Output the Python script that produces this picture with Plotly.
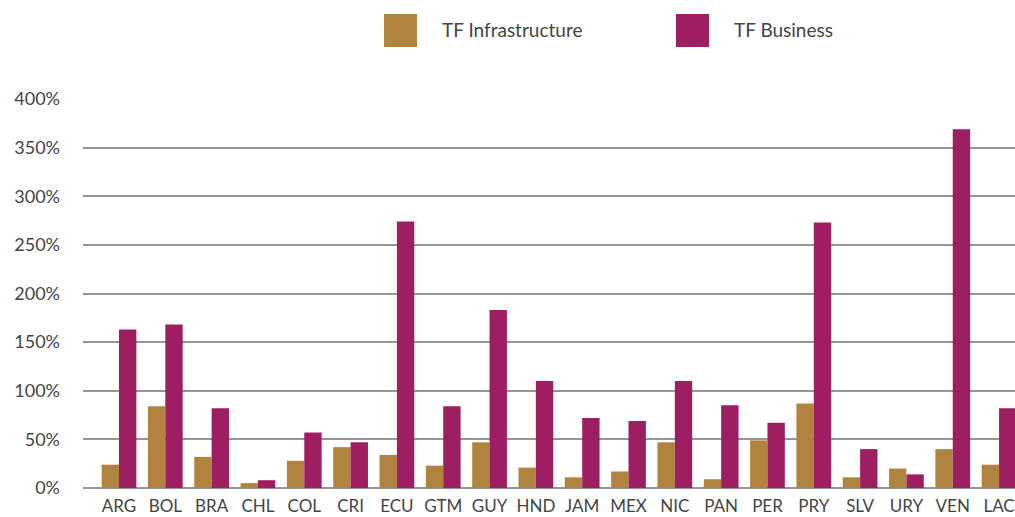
import plotly.graph_objects as go

# Country codes and the two ratios (in percent)
countries = ["ARG", "BOL", "BRA", "CHL", "COL", "CRI", "ECU", "GTM", "GUY", "HND",
             "JAM", "MEX", "NIC", "PAN", "PER", "PRY", "SLV", "URY", "VEN", "LAC"]
tf_infrastructure = [24, 84, 32, 5, 28, 42, 34, 23, 47, 21,
                     11, 17, 47, 9, 49, 87, 11, 20, 40, 24]
tf_business = [163, 168, 82, 8, 57, 47, 274, 84, 183, 110,
               72, 69, 110, 85, 67, 273, 40, 14, 369, 82]
y_ticks = [0, 50, 100, 150, 200, 250, 300, 350, 400]
y_tick_labels = ["0%", "50%", "100%", "150%", "200%", "250%", "300%", "350%", "400%"]

series_names = ["TF Infrastructure", "TF Business"]
series_colors = ["#B0843F", "#9D1F62"]

FONT = "Lato"
TEXT = "#444444"

fig = go.Figure()
for name, vals, col in zip(series_names, [tf_infrastructure, tf_business], series_colors):
    fig.add_trace(go.Bar(x=countries, y=vals, name=name, marker_color=col,
                         marker_line_width=0, showlegend=False))

W, H = 1015, 517
ml, mr, mt, mb = 83, 0, 99, 29

fig.update_layout(
    width=W, height=H,
    margin=dict(l=ml, r=mr, t=mt, b=mb, autoexpand=False),
    paper_bgcolor="white", plot_bgcolor="white",
    barmode="group", bargap=0.25, bargroupgap=0,
    font=dict(family=FONT, color=TEXT, size=18),
    xaxis=dict(range=[-0.777, 19.344], showgrid=False, showline=False,
               zeroline=False, tickfont=dict(size=17, color=TEXT),
               ticks="", ticklabelstandoff=6, automargin=False),
    yaxis=dict(range=[0, 400], tickmode="array", tickvals=y_ticks, ticktext=y_tick_labels,
               showgrid=True, gridcolor="#959595", gridwidth=1.6,
               zeroline=True, zerolinecolor="#959595", zerolinewidth=1.6,
               showline=False, ticks="", ticklabelstandoff=22, automargin=False,
               tickfont=dict(size=18, color=TEXT)),
)

# Legend drawn as large swatches with labels above the plot
legend_items = [(384, 440), (676, 732)]
for (sx, tx), name, col in zip(legend_items, series_names, series_colors):
    fig.add_shape(type="rect", xref="paper", yref="paper",
                  x0=(sx - ml) / (W - ml - mr), x1=(sx + 33 - ml) / (W - ml - mr),
                  y0=(H - mb - 47) / (H - mt - mb), y1=(H - mb - 14) / (H - mt - mb),
                  fillcolor=col, line_width=0)
    fig.add_annotation(xref="paper", yref="paper",
                       x=(tx - ml) / (W - ml - mr), y=(H - mb - 29) / (H - mt - mb),
                       xanchor="left", yanchor="middle", showarrow=False,
                       text=name, font=dict(size=19, color=TEXT, family=FONT))

fig.write_html("out.html")
